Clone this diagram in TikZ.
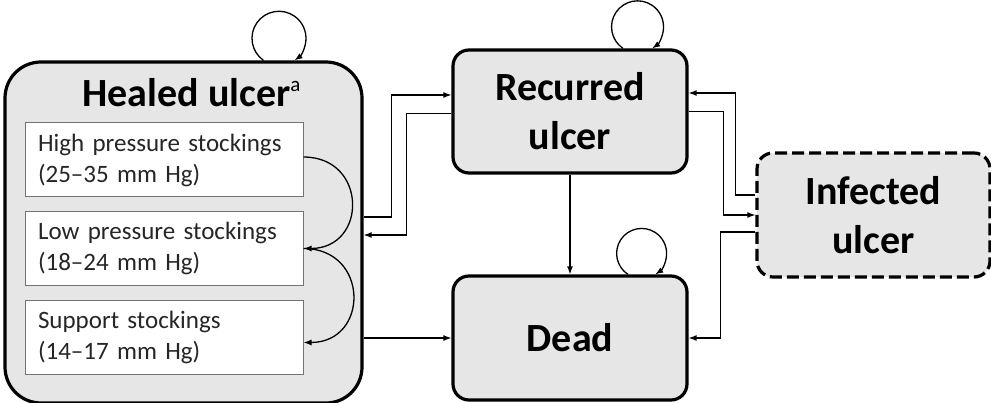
\documentclass[tikz,border=0pt]{standalone}
\usepackage{fontspec}
\setmainfont{Carlito}
\usepackage{tikz}
\usetikzlibrary{arrows.meta}
\definecolor{boxgray}{HTML}{E6E6E6}

\begin{document}
\begin{tikzpicture}[x=1pt,y=1pt,
	state/.style={shape=rectangle,rounded corners=16pt,draw=black,line width=3.2pt,fill=boxgray,align=center,font=\fontsize{40}{49}\selectfont\bfseries},
	stocking/.style={shape=rectangle,draw=black!55,line width=1pt,fill=white,minimum width=278,minimum height=74,text width=252,align=left,text=black!85,font=\fontsize{25}{31}\selectfont},
	trans/.style={line width=1.3pt,-{Latex[length=8pt,width=6pt]}}]
	\useasboundingbox (0,0) rectangle (991,402);

	\node[state,rounded corners=36pt,minimum width=357,minimum height=341] (healed) at (183.5,169.5) {};
	\node[anchor=base] (healedtitle) at (191.5,295) {\fontsize{40}{48}\selectfont\bfseries Healed ulcer\raisebox{15pt}{\fontsize{21}{21}\selectfont\mdseries a}};
	\node[stocking] (high) at (164,242) {High pressure stockings\\(25--35 mm Hg)};
	\node[stocking] (low) at (164,153.5) {Low pressure stockings\\(18--24 mm Hg)};
	\node[stocking] (support) at (164,64.5) {Support stockings\\(14--17 mm Hg)};
	\node[state,minimum width=234,minimum height=123] (recurred) at (570,290.5) {Recurred\\ulcer};
	\node[state,minimum width=234,minimum height=124] (dead) at (570,64) {Dead};
	\node[state,dash pattern=on 12pt off 5pt,minimum width=233,minimum height=124] (infected) at (873.5,187) {Infected\\ulcer};

	\draw[trans] ([yshift=3]high.east) to[out=0,in=0,looseness=1.8] (low.east);
	\draw[trans] (low.east) to[out=0,in=0,looseness=1.8] ([yshift=-5]support.east);

	\draw[trans] ([xshift=80]healed.north) arc[start angle=235,end angle=-55,radius=27];
	\draw[trans] ([xshift=53]recurred.north) arc[start angle=236,end angle=-56,radius=26];
	\draw[trans] ([xshift=58]dead.north) arc[start angle=237,end angle=-57,radius=25];

	\draw[trans] ([yshift=15.5]healed.east) -- ++(28,0) |- ([yshift=16.5]recurred.west);
	\draw[trans] ([yshift=-2]recurred.west) -- ++(-45,0) |- ([yshift=-2.5]healed.east);
	\draw[trans] (healed.east |- dead.west) -- (dead.west);
	\draw[trans] (recurred.south) -- (dead.north);
	\draw[trans] ([yshift=20]infected.west) -- ++(-20,0) |- ([yshift=18.5]recurred.east);
	\draw[trans] (recurred.east) -- ++(35,0) |- (infected.west);
	\draw[trans] ([yshift=-17]infected.west) -- ++(-35,0) |- (dead.east);
\end{tikzpicture}
\end{document}
